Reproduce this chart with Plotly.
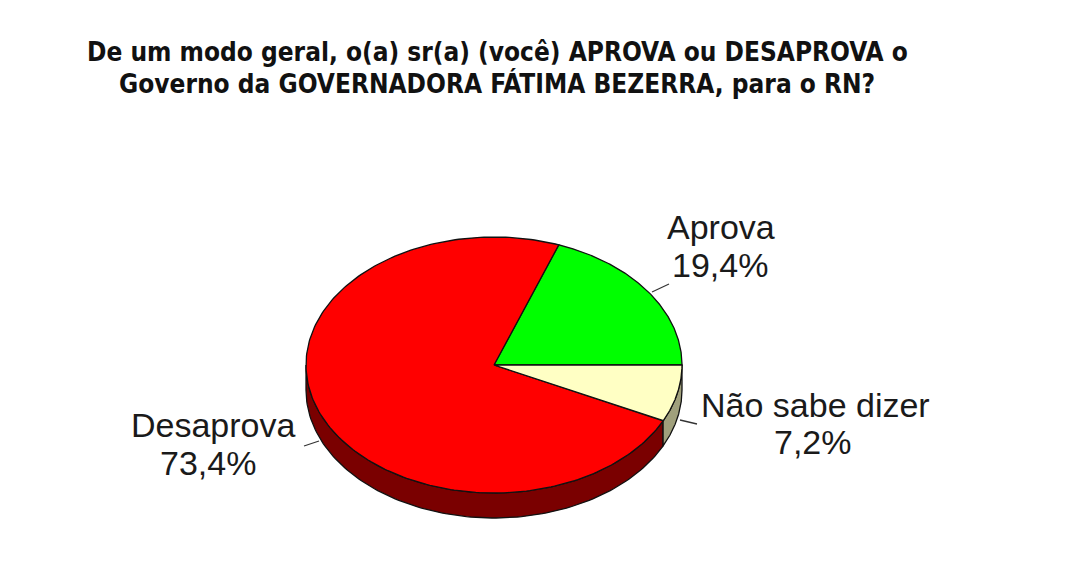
import numpy as np
import plotly.graph_objects as go

# ---- data ----
labels = ["Aprova", "Desaprova", "Não sabe dizer"]
values = [19.4, 73.4, 7.2]
pct_text = ["19,4%", "73,4%", "7,2%"]
top_colors = ["#00ff00", "#ff0000", "#ffffc4"]
side_colors = ["#008000", "#7a0000", "#a0a07c"]

title_lines = ["De um modo geral, o(a) sr(a) (você) APROVA ou DESAPROVA o",
               "Governo da GOVERNADORA FÁTIMA BEZERRA, para o RN?"]

# ---- geometry (pixel-like axis units) ----
W, H = 1068, 575
cx, cy = 494, 365
rx, ry = 188, 128
depth = 25

def ell(t_deg, dy=0.0):
    t = np.radians(t_deg)
    return cx + rx * np.cos(t), cy - ry * np.sin(t) + dy

total = sum(values)
starts, ends = [], []
acc = 0.0
for v in values:
    starts.append(acc * 360 / total)
    acc += v
    ends.append(acc * 360 / total)

fig = go.Figure()

# side walls (visible front half: 180..360 degrees)
for i, lab in enumerate(labels):
    a0, a1 = max(starts[i], 180), min(ends[i], 360)
    if a1 <= a0:
        continue
    ts = np.linspace(a0, a1, 120)
    xt, yt = ell(ts)
    xb, yb = ell(ts[::-1], depth)
    xs = np.concatenate([xt, xb, xt[:1]])
    ys = np.concatenate([yt, yb, yt[:1]])
    fig.add_trace(go.Scatter(x=xs, y=ys, mode="lines", fill="toself",
                             fillcolor=side_colors[i],
                             line=dict(color="#111111", width=1.3),
                             hoverinfo="skip", showlegend=False))

# top faces
for i, lab in enumerate(labels):
    ts = np.linspace(starts[i], ends[i], 240)
    xt, yt = ell(ts)
    xs = np.concatenate([[cx], xt, [cx]])
    ys = np.concatenate([[cy], yt, [cy]])
    fig.add_trace(go.Scatter(x=xs, y=ys, mode="lines", fill="toself",
                             fillcolor=top_colors[i],
                             line=dict(color="#111111", width=1.3),
                             name=lab, hoverinfo="text",
                             text=f"{lab}: {pct_text[i]}", showlegend=False))

# labels and leader lines
name_pos = [(721, 227), (213, 425), (815, 405)]
pct_pos = [(720, 265), (208, 463), (813, 442)]
leaders = [((652, 292), (669, 284)), ((304, 446), (319, 441)), ((680, 420), (697, 424))]
lab_font = dict(family="Liberation Sans, Arial", size=34, color="#1a1a1a")
for i, lab in enumerate(labels):
    fig.add_annotation(x=name_pos[i][0], y=name_pos[i][1], text=lab, showarrow=False,
                       font=lab_font, xanchor="center", yanchor="middle")
    fig.add_annotation(x=pct_pos[i][0], y=pct_pos[i][1], text=pct_text[i], showarrow=False,
                       font=lab_font, xanchor="center", yanchor="middle")
    (x0, y0), (x1, y1) = leaders[i]
    fig.add_trace(go.Scatter(x=[x0, x1], y=[y0, y1], mode="lines",
                             line=dict(color="#333333", width=1.3),
                             hoverinfo="skip", showlegend=False))

for k, line in enumerate(title_lines):
    fig.add_annotation(x=497, y=[52, 83][k], text="<b>" + line + "</b>",
                       showarrow=False, xanchor="center", yanchor="middle",
                       font=dict(family="Liberation Sans Narrow, DejaVu Sans Condensed, sans-serif",
                                 size=26, color="#111111"))

fig.update_layout(width=W, height=H, margin=dict(l=0, r=0, t=0, b=0),
                  paper_bgcolor="white", plot_bgcolor="white",
                  xaxis=dict(range=[0, W], visible=False, fixedrange=True),
                  yaxis=dict(range=[H, 0], visible=False, fixedrange=True))

fig.write_html("out.html")
